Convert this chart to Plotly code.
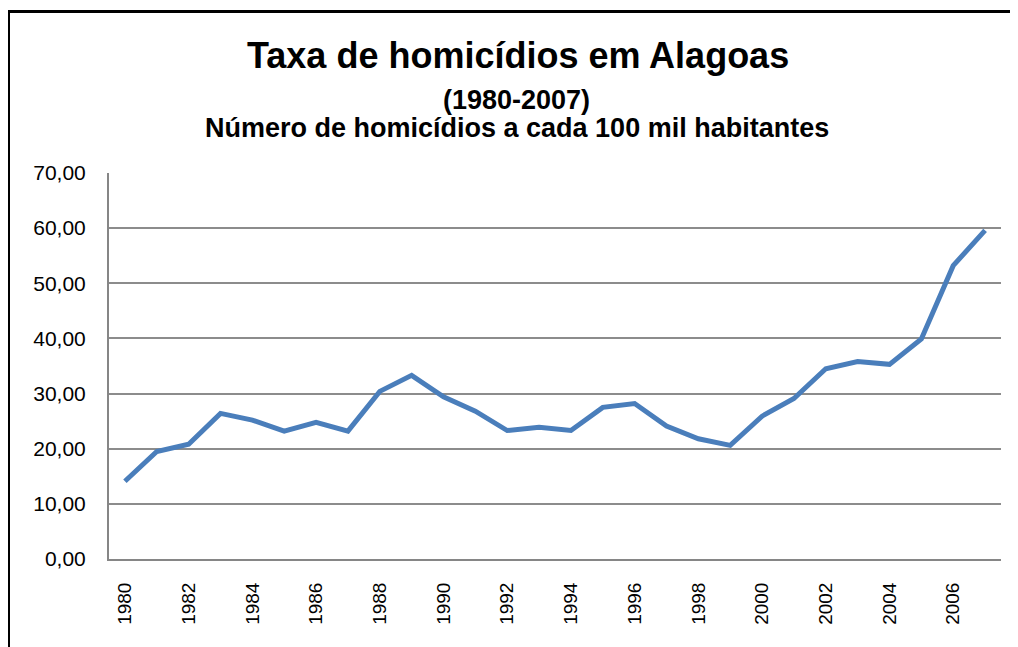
import plotly.graph_objects as go

years = list(range(1980, 2008))
taxa = [14.1, 19.5, 20.8, 26.4, 25.2, 23.2, 24.8, 23.2, 30.4, 33.3,
        29.4, 26.8, 23.3, 23.9, 23.3, 27.5, 28.2, 24.1, 21.8, 20.6,
        25.9, 29.1, 34.5, 35.8, 35.3, 39.9, 53.2, 59.6]

x_tick_years = list(range(1980, 2007, 2))
y_tick_vals = [0, 10, 20, 30, 40, 50, 60, 70]
y_tick_text = ["0,00", "10,00", "20,00", "30,00", "40,00", "50,00", "60,00", "70,00"]

title_text = "Taxa de homicídios em Alagoas"
period_text = "(1980-2007)"
sub_text = "Número de homicídios a cada 100 mil habitantes"

# the page body adds an 8px offset; target screen positions are shifted by it
OFF = 8
W, H = 1018, 647
L, T = 109 - OFF, 173 - OFF
PW, PH = 892, 386
R = W - L - PW
B = H - T - PH


def px_x(px):
    return (px - OFF - L) / PW


def px_y(py):
    return (T + PH - (py - OFF)) / PH


sans = "Liberation Sans, Arial, sans-serif"

fig = go.Figure()
fig.add_trace(go.Scatter(
    x=years, y=taxa, mode="lines",
    line=dict(color="#4a7ebb", width=5),
    hoverinfo="skip", showlegend=False,
))

fig.update_layout(
    width=W, height=H,
    margin=dict(l=L, r=R, t=T, b=B, pad=0),
    paper_bgcolor="white", plot_bgcolor="white",
    showlegend=False,
    xaxis=dict(
        range=[1979.5, 2007.5],
        tickmode="array", tickvals=x_tick_years,
        ticktext=[str(y) for y in x_tick_years],
        tickangle=-90,
        tickfont=dict(family=sans, size=19, color="black"),
        showgrid=False, zeroline=False,
        showline=True, linecolor="#868686", linewidth=2,
        ticks="", ticklabelstandoff=14,
    ),
    yaxis=dict(
        range=[0, 70],
        tickmode="array", tickvals=y_tick_vals, ticktext=y_tick_text,
        tickfont=dict(family=sans, size=21, color="black"),
        showgrid=True, gridcolor="#8c8c8c", gridwidth=1.5,
        zeroline=False,
        showline=True, linecolor="#868686", linewidth=2,
        ticks="", ticklabelstandoff=17,
    ),
    annotations=[
        dict(text="<b>" + title_text + "</b>", xref="paper", yref="paper",
             x=px_x(518), y=px_y(55), xanchor="center", yanchor="middle",
             showarrow=False, font=dict(family=sans, size=36, color="black")),
        dict(text="<b>" + period_text + "</b>", xref="paper", yref="paper",
             x=px_x(516), y=px_y(100), xanchor="center", yanchor="middle",
             showarrow=False, font=dict(family=sans, size=27, color="black")),
        dict(text="<b>" + sub_text + "</b>", xref="paper", yref="paper",
             x=px_x(517), y=px_y(128), xanchor="center", yanchor="middle",
             showarrow=False, font=dict(family=sans, size=27, color="black")),
    ],
    shapes=[
        dict(type="rect", xref="paper", yref="paper",
             x0=px_x(8.5), x1=px_x(1040), y0=px_y(680), y1=px_y(11.5),
             line=dict(color="black", width=3), fillcolor="rgba(0,0,0,0)",
             layer="above"),
    ],
)

fig.write_html("out.html")
